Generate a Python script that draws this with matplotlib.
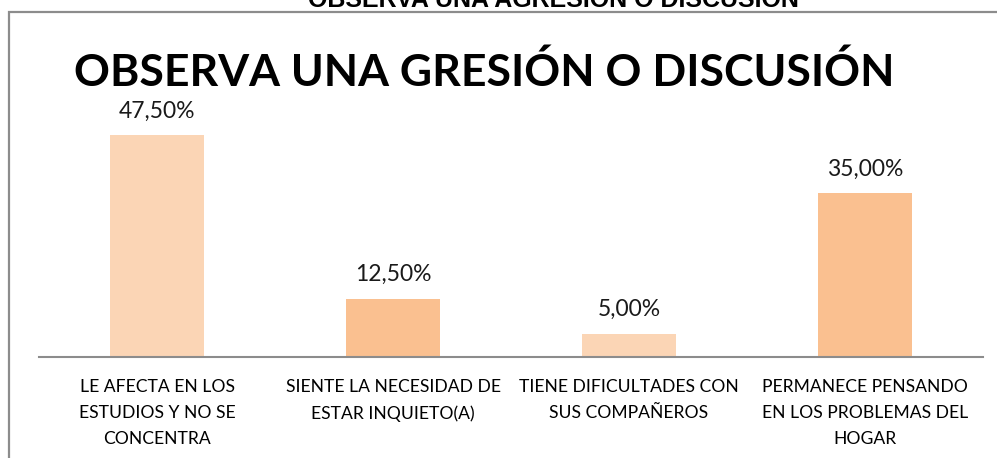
import matplotlib
matplotlib.use('Agg')
import matplotlib.pyplot as plt
from matplotlib.patches import Rectangle

# Data
categorias = ['LE AFECTA EN LOS\nESTUDIOS Y NO SE\nCONCENTRA',
              'SIENTE LA NECESIDAD DE\nESTAR INQUIETO(A)',
              'TIENE DIFICULTADES CON\nSUS COMPAÑEROS',
              'PERMANECE PENSANDO\nEN LOS PROBLEMAS DEL\nHOGAR']
porcentajes = [47.5, 12.5, 5.0, 35.0]
etiquetas = ['47,50%', '12,50%', '5,00%', '35,00%']
colores = ['#FBD5B5', '#FAC090', '#FBD5B5', '#FAC090']

plt.rcParams['font.family'] = ['Lato', 'DejaVu Sans']

W, H = 997, 458
fig = plt.figure(figsize=(W / 100, H / 100), dpi=100)

# marco del grafico (cortado a la derecha y abajo)
fig.patches.append(Rectangle((9 / W, -0.1), 1.2, 1 - 12 / H + 0.1,
                             transform=fig.transFigure, fill=False,
                             edgecolor='#8c8c8c', linewidth=1.6))

# titulo cortado arriba
fig.text(553 / W, 1 - 7 / H, 'OBSERVA UNA AGRESIÓN O DISCUSIÓN', ha='center',
         va='baseline', fontsize=18, fontweight='bold', family='Liberation Sans')

fig.text(484 / W, 1 - 86 / H, 'OBSERVA UNA GRESIÓN O DISCUSIÓN', ha='center',
         va='baseline', fontsize=32, fontweight='bold')

ax = fig.add_axes([39 / W, 1 - 357 / H, (983 - 39) / W, (357 - 100) / H])
x = range(len(porcentajes))
barras = ax.bar(x, porcentajes, width=0.4, color=colores)
ax.set_ylim(0, 55)
ax.set_xlim(-0.5, 3.5)

for xi, v, t in zip(x, porcentajes, etiquetas):
    ax.text(xi, v + 2.9, t, ha='center', va='bottom', fontsize=16.5, color='#1a1a1a')

ax.set_xticks(list(x))
ax.set_xticklabels(categorias, fontsize=12.6, linespacing=1.75, va='top')
ax.tick_params(axis='x', length=0, pad=16)
ax.set_yticks([])
for s in ['top', 'right', 'left']:
    ax.spines[s].set_visible(False)
ax.spines['bottom'].set_color('#8c8c8c')
ax.spines['bottom'].set_linewidth(1.5)

plt.savefig('out.png', dpi=100)
